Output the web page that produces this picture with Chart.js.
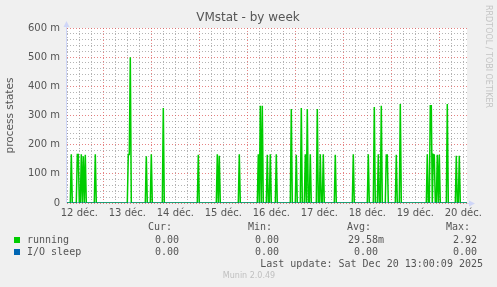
<!DOCTYPE html>
<html>
<head>
<meta charset="utf-8">
<script src="https://cdn.jsdelivr.net/npm/chart.js@4.4.1/dist/chart.umd.min.js"></script>
<style>
  html, body { margin: 0; padding: 0; background: #f0f0f0; }
  canvas { display: block; }
</style>
</head>
<body>
<canvas id="vmstat" width="497" height="287"></canvas>
<script>
// x values are hours counted from 12 déc. 00:00
const dayLabels = ['12 déc.', '13 déc.', '14 déc.', '15 déc.', '16 déc.', '17 déc.', '18 déc.', '19 déc.', '20 déc.'];
const xStart = 5.85, xEnd = 205.85;

// running processes: spikes (hour, value)
const runningHours = [8.0, 11.0, 11.5, 13.0, 14.0, 15.0, 20.0, 36.5, 37.0, 37.5, 45.5, 48.0, 54.0, 71.5,
  81.0, 82.0, 92.0, 101.5, 102.5, 103.5, 106.0, 107.5, 110.5, 118.0, 120.5, 123.0, 125.0, 126.0, 127.5,
  131.0, 132.5, 134.0, 140.0, 149.0, 156.5, 159.5, 161.5, 163.0, 165.5, 166.0, 170.5, 172.5, 186.0,
  187.5, 188.0, 189.0, 189.5, 191.0, 192.0, 196.0, 200.5, 202.0];
const runningValues = [0.1667, 0.1667, 0.1667, 0.1667, 0.16, 0.165, 0.1667, 0.1667, 0.1667, 0.5, 0.16, 0.1667, 0.326, 0.165,
  0.1667, 0.162, 0.1667, 0.1667, 0.3333, 0.3333, 0.165, 0.1667, 0.1667, 0.322, 0.165, 0.326, 0.1667, 0.322, 0.1667,
  0.322, 0.1667, 0.1667, 0.165, 0.1667, 0.1667, 0.329, 0.1667, 0.3333, 0.165, 0.165, 0.165, 0.339, 0.1667,
  0.3333, 0.3333, 0.1667, 0.165, 0.165, 0.165, 0.339, 0.162, 0.162];

// I/O sleep stays at zero the whole week
const ioSleepHours = [xStart, xEnd];
const ioSleepValues = [0, 0];

const seriesNames = ['running', 'I/O sleep'];
const seriesColors = ['#00cc00', '#0066b3'];
const curValues = ['0.00', '0.00'];
const minValues = ['0.00', '0.00'];
const avgValues = ['29.58m', '0.00'];
const maxValues = ['2.92', '0.00'];
const lastUpdate = 'Last update: Sat Dec 20 13:00:09 2025';

// baseline between spikes is zero
const runningPoints = [{x: xStart, y: 0}];
runningHours.forEach((h, i) => {
  const last = runningPoints[runningPoints.length - 1];
  if (last.x < h - 0.5) runningPoints.push({x: h - 0.5, y: 0});
  runningPoints.push({x: h, y: runningValues[i]});
  const next = runningHours[i + 1];
  if (next === undefined || next > h + 0.5) runningPoints.push({x: h + 0.5, y: 0});
});
runningPoints.push({x: xEnd, y: 0});

const ioPoints = ioSleepHours.map((h, i) => ({x: h, y: ioSleepValues[i]}));

const textColor = '#555555';
const axisColor = '#cfd6f8';
const minorGrid = 'rgba(130,130,130,0.6)';
const majorGrid = 'rgba(220,80,80,0.7)';

const munin = {
  id: 'munin',
  afterDatasetsDraw(chart) {
    const ctx = chart.ctx;
    const a = chart.chartArea;
    ctx.save();
    // axes with arrows
    ctx.strokeStyle = axisColor;
    ctx.fillStyle = axisColor;
    ctx.lineWidth = 1;
    ctx.beginPath();
    ctx.moveTo(a.left - 0.5, a.bottom);
    ctx.lineTo(a.left - 0.5, a.top - 4);
    ctx.moveTo(a.right, a.bottom + 0.5);
    ctx.lineTo(a.right + 4, a.bottom + 0.5);
    ctx.stroke();
    ctx.beginPath();
    ctx.moveTo(a.left - 3.5, a.top - 1);
    ctx.lineTo(a.left + 2.5, a.top - 1);
    ctx.lineTo(a.left - 0.5, a.top - 7);
    ctx.closePath();
    ctx.fill();
    ctx.beginPath();
    ctx.moveTo(a.right + 2, a.bottom - 2.5);
    ctx.lineTo(a.right + 2, a.bottom + 3.5);
    ctx.lineTo(a.right + 8, a.bottom + 0.5);
    ctx.closePath();
    ctx.fill();

    // title
    ctx.fillStyle = textColor;
    ctx.font = '12px "DejaVu Sans"';
    ctx.textAlign = 'center';
    ctx.textBaseline = 'middle';
    ctx.fillText('VMstat - by week', 248, 18);

    // vertical axis title
    ctx.save();
    ctx.translate(10, (a.top + a.bottom) / 2);
    ctx.rotate(-Math.PI / 2);
    ctx.font = '10.5px "DejaVu Sans"';
    ctx.fillText('process states', 0, 0);
    ctx.restore();

    // rrdtool credit
    ctx.save();
    ctx.translate(488, 5);
    ctx.rotate(Math.PI / 2);
    ctx.fillStyle = '#c4c4c4';
    ctx.font = '8px "DejaVu Sans"';
    ctx.textAlign = 'left';
    ctx.fillText('RRDTOOL / TOBI OETIKER', 0, 0);
    ctx.restore();

    // legend table
    ctx.font = '10px "DejaVu Sans Mono"';
    ctx.fillStyle = textColor;
    ctx.textAlign = 'right';
    const cols = [179, 279, 384, 477];
    const heads = ['Cur:', 'Min:', 'Avg:', 'Max:'];
    const headRight = [172, 272, 371, 470];
    heads.forEach((t, i) => ctx.fillText(t, headRight[i], 227));
    seriesNames.forEach((name, r) => {
      const y = 240 + r * 12;
      ctx.fillStyle = seriesColors[r];
      ctx.fillRect(14, y - 3, 6, 6);
      ctx.fillStyle = textColor;
      ctx.textAlign = 'left';
      ctx.fillText(name, 27, y);
      ctx.textAlign = 'right';
      ctx.fillText(curValues[r], cols[0], y);
      ctx.fillText(minValues[r], cols[1], y);
      ctx.fillText(avgValues[r], r === 0 ? cols[2] : 378, y);
      ctx.fillText(maxValues[r], cols[3], y);
    });
    ctx.fillText(lastUpdate, 483, 264);

    ctx.textAlign = 'center';
    ctx.fillStyle = '#c0c0c0';
    ctx.font = '8px "DejaVu Sans"';
    ctx.fillText('Munin 2.0.49', 249, 276);
    ctx.restore();
  }
};

const plotBg = {
  id: 'plotBg',
  beforeDraw(chart) {
    const a = chart.chartArea;
    chart.ctx.save();
    chart.ctx.fillStyle = '#ffffff';
    chart.ctx.fillRect(a.left, a.top, a.right - a.left, a.bottom - a.top);
    chart.ctx.restore();
  }
};

new Chart(document.getElementById('vmstat'), {
  type: 'line',
  data: {
    datasets: [
      {
        label: seriesNames[0],
        data: runningPoints,
        borderColor: seriesColors[0],
        borderWidth: 1.5,
        pointRadius: 0,
        tension: 0,
        fill: false,
        order: 1
      },
      {
        label: seriesNames[1],
        data: ioPoints,
        borderColor: seriesColors[1],
        borderWidth: 1,
        pointRadius: 0,
        tension: 0,
        fill: false,
        order: 0
      }
    ]
  },
  options: {
    responsive: false,
    animation: false,
    events: [],
    layout: { padding: { top: 28, right: 30, left: 0, bottom: 0 } },
    plugins: { legend: { display: false }, tooltip: { enabled: false } },
    scales: {
      x: {
        type: 'linear',
        min: xStart,
        max: xEnd,
        afterFit(scale) { scale.height = 84; },
        border: { display: false, dash: [1, 2] },
        grid: {
          drawTicks: false,
          lineWidth: 1,
          color: c => (c.tick.value % 24 === 0 ? majorGrid : minorGrid)
        },
        ticks: {
          stepSize: 6,
          autoSkip: false,
          includeBounds: false,
          maxRotation: 0,
          padding: 4,
          color: textColor,
          font: { family: 'DejaVu Sans', size: 10 },
          callback: v => (v % 24 === 12 ? dayLabels[(v - 12) / 24] : '')
        }
      },
      y: {
        min: 0,
        max: 0.6,
        afterFit(scale) { scale.width = 67; },
        border: { display: false, dash: [1, 2] },
        grid: {
          drawTicks: false,
          lineWidth: 1,
          color: c => (Math.round(c.tick.value * 100) % 10 === 0 ? majorGrid : minorGrid)
        },
        ticks: {
          stepSize: 0.02,
          autoSkip: false,
          padding: 7,
          color: textColor,
          font: { family: 'DejaVu Sans', size: 10 },
          callback: v => {
            const m = Math.round(v * 1000);
            if (m % 100 !== 0) return '';
            return m === 0 ? '0' : m + ' m';
          }
        }
      }
    }
  },
  plugins: [plotBg, munin]
});
</script>
</body>
</html>
